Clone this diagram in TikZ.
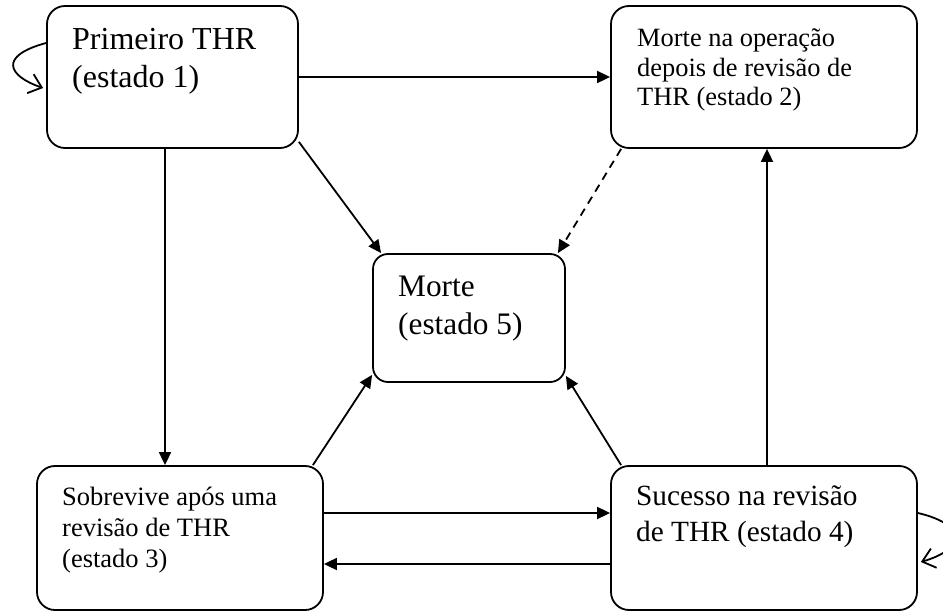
\documentclass[tikz,border=0pt]{standalone}
\usepackage{fontspec}
\setmainfont{Liberation Serif}
\usetikzlibrary{arrows.meta}
\begin{document}
\begin{tikzpicture}[x=1pt,y=-1pt,
  box/.style={draw,line width=1.8pt,rounded corners=18pt,inner sep=0pt},
  lbl/.style={anchor=base west,inner sep=0pt},
  arr/.style={line width=1.8pt,-{Triangle[length=13pt,width=12pt]}},
  loop/.style={line width=1.8pt,-{Straight Barb[length=12pt,width=20pt,line width=1.8pt]}}]
\useasboundingbox (0,0) rectangle (943,612);
% boxes
\node[box,minimum width=251pt,minimum height=142pt] (b1) at (172.5,77) {};
\node[box,minimum width=306pt,minimum height=142pt] (b2) at (764,77) {};
\node[box,minimum width=286pt,minimum height=144pt] (b3) at (180,538) {};
\node[box,minimum width=306pt,minimum height=144pt] (b4) at (764,538) {};
\node[box,rounded corners=15pt,minimum width=192pt,minimum height=128pt] (b5) at (469,318) {};
% texts
\node[lbl,font=\fontsize{32}{38}\selectfont] (t1) at (72,50)
  {\vtop{\hbox{Primeiro THR}\hbox{(estado 1)}}};
\node[lbl,font=\fontsize{26.4}{29.5}\selectfont] (t2) at (637,47)
  {\vtop{\hbox{Morte na operação}\hbox{depois de revisão de}\hbox{THR (estado 2)}}};
\node[lbl,font=\fontsize{26.5}{31}\selectfont] (t3) at (62,505)
  {\vtop{\hbox{Sobrevive após uma}\hbox{revisão de THR}\hbox{(estado 3)}}};
\node[lbl,font=\fontsize{29.3}{36}\selectfont] (t4) at (636,505)
  {\vtop{\hbox{Sucesso na revisão}\hbox{de THR (estado 4)}}};
\node[lbl,font=\fontsize{31.3}{38}\selectfont] (t5) at (398,297)
  {\vtop{\hbox{Morte}\hbox{(estado 5)}}};
% connectors
\draw[arr] (b1.east) -- (b2.west);
\draw[arr] ([xshift=-7.5pt]b1.south) -- ([xshift=-7.5pt]b1.south |- b3.north);
\draw[arr] ([xshift=3pt]b4.north) -- ([xshift=3pt]b4.north |- b2.south);
\draw[arr] ([yshift=25pt]b3.east) -- ([yshift=25pt]b3.east -| b4.west);
\draw[arr] ([yshift=-26pt]b4.west) -- ([yshift=-26pt]b4.west -| b3.east);
\draw[arr] ([yshift=7pt]b1.south east) -- ([xshift=9pt]b5.north west);
\draw[arr,dash pattern=on 8pt off 6pt] ([xshift=11pt]b2.south west) -- ([xshift=-8pt]b5.north east);
\draw[arr] ([xshift=-11pt]b3.north east) -- ([yshift=8pt]b5.south west);
\draw[arr] ([xshift=11pt]b4.north west) -- ([yshift=7pt]b5.south east);
% self loops
\coordinate (l1a) at ([yshift=34pt]b1.west);
\coordinate (l1b) at ([xshift=-3pt,yshift=-11pt]b1.west);
\draw[loop] (l1a) .. controls (-2,56) and (8,76) .. (l1b);
\coordinate (l4a) at ([yshift=25pt]b4.east);
\coordinate (l4b) at ([xshift=3pt,yshift=-24pt]b4.east);
\draw[loop] (l4a) .. controls (965,524) and (968,548) .. (l4b);
\end{tikzpicture}
\end{document}
